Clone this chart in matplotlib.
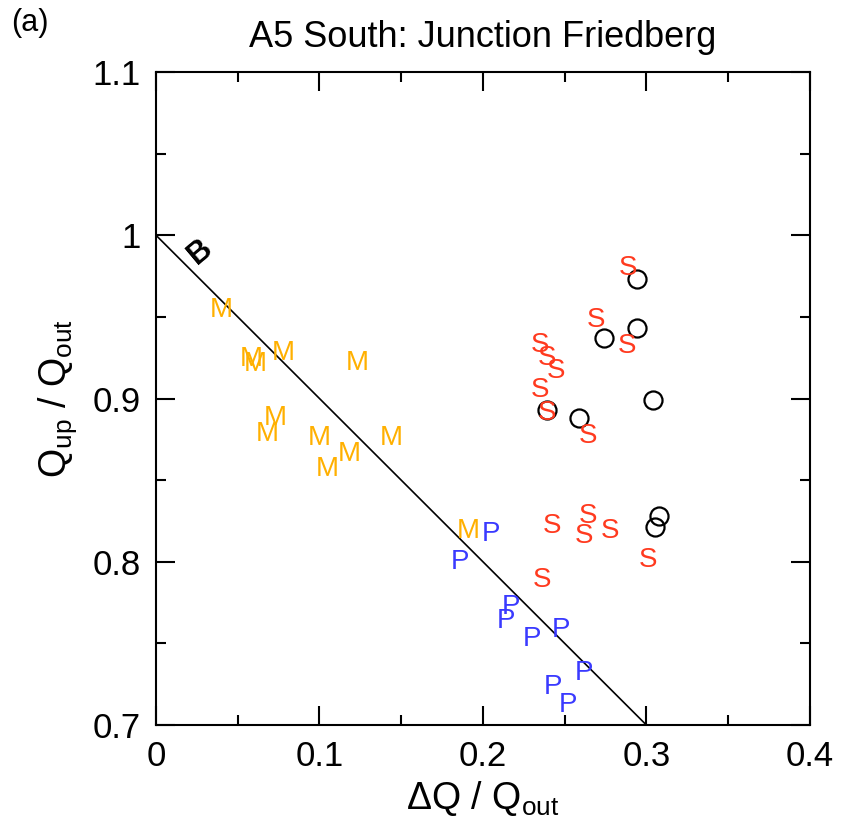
import numpy as np
import matplotlib.pyplot as plt

plt.rcParams['font.family'] = ['Liberation Sans', 'DejaVu Sans']
plt.rcParams['mathtext.fontset'] = 'custom'
plt.rcParams['mathtext.rm'] = 'Liberation Sans'

# M points (orange)
m_x = [0.040, 0.058, 0.061, 0.078, 0.123, 0.073, 0.068, 0.100, 0.118, 0.105, 0.144, 0.191]
m_y = [0.954, 0.924, 0.921, 0.928, 0.922, 0.888, 0.878, 0.876, 0.866, 0.857, 0.876, 0.819]
# P points (blue)
p_x = [0.186, 0.205, 0.217, 0.214, 0.230, 0.248, 0.262, 0.243, 0.252]
p_y = [0.800, 0.817, 0.772, 0.764, 0.753, 0.758, 0.732, 0.723, 0.712]
# S points (red)
s_x = [0.289, 0.269, 0.288, 0.235, 0.239, 0.245, 0.235, 0.239, 0.264,
       0.242, 0.264, 0.262, 0.278, 0.301, 0.236]
s_y = [0.980, 0.948, 0.932, 0.933, 0.925, 0.917, 0.905, 0.891, 0.877,
       0.822, 0.828, 0.816, 0.819, 0.801, 0.789]
# circles
c_x = [0.294, 0.294, 0.274, 0.304, 0.239, 0.259, 0.308, 0.305]
c_y = [0.973, 0.943, 0.937, 0.899, 0.893, 0.888, 0.828, 0.821]
# B point
b_x, b_y = 0.027, 0.990

fig = plt.figure(figsize=(8.41, 8.35), dpi=100)
ax = fig.add_axes([0.1855, 0.1317, 0.7775, 0.7821])

ax.plot([0, 0.3], [1.0, 0.7], color='black', lw=1.2)

for x, y in zip(m_x, m_y):
    ax.text(x, y, 'M', color='#FFB000', fontsize=20, ha='center', va='center')
for x, y in zip(p_x, p_y):
    ax.text(x, y, 'P', color='#3A3AFF', fontsize=20, ha='center', va='center')
for x, y in zip(s_x, s_y):
    ax.text(x, y, 'S', color='#FF3A1F', fontsize=20, ha='center', va='center')
ax.plot(c_x, c_y, 'o', mfc='none', mec='black', ms=13, mew=1.6, ls='none')
ax.text(b_x, b_y, 'B', color='black', fontsize=22, fontweight='bold',
        rotation=40, ha='center', va='center')

ax.set_xlim(0, 0.4)
ax.set_ylim(0.7, 1.1)
ax.set_xticks([0, 0.1, 0.2, 0.3, 0.4])
ax.set_xticklabels(['0', '0.1', '0.2', '0.3', '0.4'])
ax.set_yticks([0.7, 0.8, 0.9, 1.0, 1.1])
ax.set_yticklabels(['0.7', '0.8', '0.9', '1', '1.1'])
ax.set_xticks(np.arange(0.05, 0.4, 0.1), minor=True)
ax.set_yticks(np.arange(0.75, 1.1, 0.1), minor=True)
ax.tick_params(which='both', direction='in', top=True, right=True, width=1.5)
ax.tick_params(which='major', length=14, labelsize=25, pad=11)
ax.tick_params(which='minor', length=7)
for sp in ax.spines.values():
    sp.set_linewidth(1.5)

ax.set_xlabel('ΔQ / Q$_\\mathregular{out}$', fontsize=27, labelpad=4)
ax.set_ylabel('Q$_\\mathregular{up}$ / Q$_\\mathregular{out}$', fontsize=27, labelpad=10)
ax.set_title('A5 South: Junction Friedberg', fontsize=26, pad=18)
fig.text(0.013, 0.972, '(a)', fontsize=22, va='center')

fig.savefig('out.png', dpi=100)
